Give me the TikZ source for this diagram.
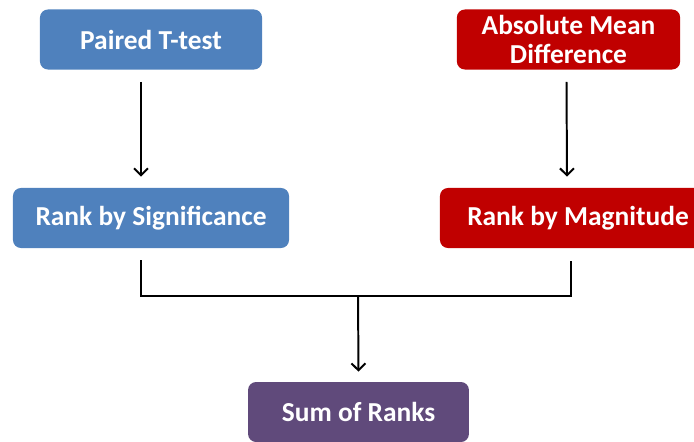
\documentclass[tikz,border=0pt]{standalone}
\usepackage{fontspec}
\setmainfont{Carlito}
\usepackage{tikz}
\usetikzlibrary{arrows,arrows.meta,calc}

\definecolor{boxblue}{HTML}{4F81BD}
\definecolor{boxred}{HTML}{C00000}
\definecolor{boxpurple}{HTML}{604A7B}

\tikzset{
  stepbox/.style={rounded corners=0.2cm, text=white, align=center,
    font=\fontsize{19.5}{21.3}\selectfont\bfseries,
    minimum height=1.5cm, inner sep=0pt},
  link/.style={black, line width=1.4pt},
  tip/.style={-{Straight Barb[length=5pt,width=10pt]}},
}

\begin{document}
\begin{tikzpicture}[x=0.025cm,y=-0.025cm]
        \useasboundingbox (0,0) rectangle (694,441);
        \node[stepbox,fill=boxblue,minimum width=5.55cm](paired) at (151,39.5) {Paired T-test};
        \node[stepbox,fill=boxred,minimum width=5.58cm](absmean) at (568.5,39.5) {Absolute Mean\\Difference};
        \node[stepbox,fill=boxblue,minimum width=6.9cm](ranksig) at (151,218) {Rank by Significance};
        \node[stepbox,fill=boxred,minimum width=6.9cm](rankmag) at (578,218) {Rank by Magnitude};
        \node[stepbox,fill=boxpurple,minimum width=5.52cm](sum) at (358.5,412) {Sum of Ranks};
        \coordinate(merge) at (358,296);
        \draw[link,tip] ($(paired.south)+(-10,12)$) -- ($(ranksig.north)+(-10,-11)$);
        \draw[link,tip] ($(absmean.south)+(-2,12)$) -- ($(rankmag.north)+(-11,-11)$);
        \draw[link] ($(ranksig.south)+(-10,12)$) |- ($(rankmag.south)+(-7,48)$) -- ($(rankmag.south)+(-7,13)$);
        \draw[link,tip] (merge) -- ($(sum.north)+(0,-10)$);
      \end{tikzpicture}
\end{document}
